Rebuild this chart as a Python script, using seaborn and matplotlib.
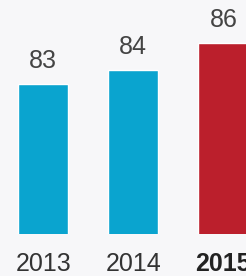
import matplotlib
matplotlib.use("Agg")
import matplotlib.pyplot as plt
import seaborn as sns

years = ["2013", "2014", "2015"]
scores = [83, 84, 86]
colors = ["#0aa4cf", "#0aa4cf", "#bb1f2c"]

sns.set_theme(style="white")
plt.rcParams["font.family"] = ["Liberation Sans", "DejaVu Sans"]

fig = plt.figure(figsize=(2.46, 2.76), dpi=100)
fig.patch.set_facecolor("#f7f7f9")
ax = fig.add_axes([0, 42 / 276, 1, 234 / 276])
ax.set_facecolor("#f7f7f9")

sns.barplot(x=years, y=scores, hue=years, palette=colors, width=0.556,
            legend=False, saturation=1, ax=ax)

for c in ax.containers:
    ax.bar_label(c, padding=8, fontsize=18, color="#444444")

ax.set_ylim(72, 89.12)
ax.set_xlim(-0.481, 2.252)
ax.set_yticks([])
ax.tick_params(axis="x", length=0, pad=13, labelsize=18, labelcolor="#333333")
for lab in ax.get_xticklabels():
    if lab.get_text() == "2015":
        lab.set_fontweight("bold")
        lab.set_color("#222222")
sns.despine(ax=ax, left=True, bottom=True)

fig.savefig("out.png", dpi=100, facecolor=fig.get_facecolor())
